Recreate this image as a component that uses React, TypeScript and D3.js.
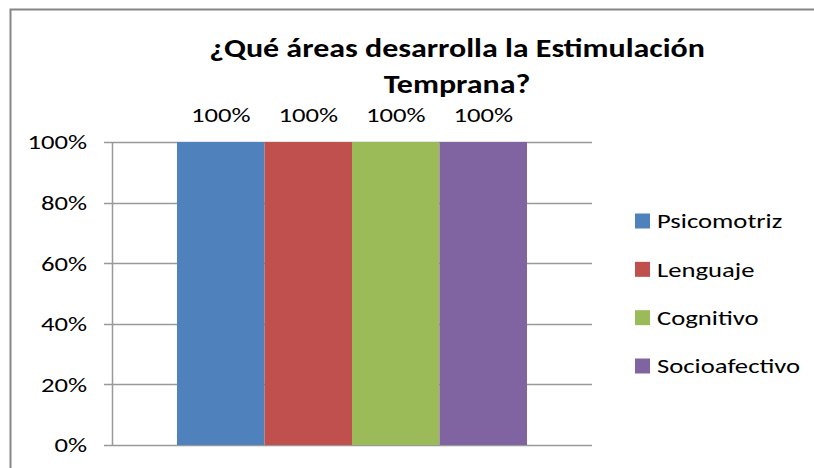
import * as d3 from "d3";
import type { ReactNode } from "react";

const categories = ["Áreas"];
const seriesNames = ["Psicomotriz", "Lenguaje", "Cognitivo", "Socioafectivo"];
const seriesValues = [1, 1, 1, 1];
const seriesColors = ["#4f81bd", "#c0504d", "#9bbb59", "#8064a2"];
const yTicks = [0, 0.2, 0.4, 0.6, 0.8, 1];
const titleLines = ["¿Qué áreas desarrolla la Estimulación", "Temprana?"];

// the original (Calibri) text looks wider than Lato, so stretch it a bit
function WideText({
  x,
  y,
  sx = 1.27,
  anchor = "start",
  baseline = "auto",
  size = 21,
  bold = false,
  children,
}: {
  x: number;
  y: number;
  sx?: number;
  anchor?: string;
  baseline?: string;
  size?: number;
  bold?: boolean;
  children: ReactNode;
}) {
  return (
    <text
      transform={`translate(${x},${y}) scale(${sx},1)`}
      textAnchor={anchor}
      dominantBaseline={baseline}
      fontSize={size}
      fontWeight={bold ? "bold" : "normal"}
      fill="#000"
    >
      {children}
    </text>
  );
}

export default function App() {
  const width = 814;
  const height = 468;
  const marginLeft = 112;
  const marginRight = 222;
  const marginTop = 142;
  const marginBottom = 23;
  const font = "Carlito, Calibri, Lato, sans-serif";

  const pct = d3.format(".0%");

  const x = d3
    .scaleBand()
    .domain(categories)
    .range([marginLeft, width - marginRight])
    .paddingInner(0)
    .paddingOuter(0.1857);

  const xInner = d3
    .scaleBand()
    .domain(seriesNames)
    .range([0, x.bandwidth()]);

  const y = d3
    .scaleLinear()
    .domain([0, 1])
    .range([height - marginBottom, marginTop]);

  const legendY = d3
    .scalePoint()
    .domain(seriesNames)
    .range([221, 366]);

  return (
    <svg
      width={width}
      height={height}
      style={{ position: "absolute", left: 0, top: 0, background: "#fff" }}
      fontFamily={font}
    >
      {/* chart border */}
      <rect
        x={10.5}
        y={9.5}
        width={width + 20}
        height={height + 20}
        fill="none"
        stroke="#868686"
        strokeWidth={2}
      />
      {/* title */}
      <WideText x={457} y={57} anchor="middle" size={26} sx={1.23} bold>
        {titleLines[0]}
      </WideText>
      <WideText x={457} y={93} anchor="middle" size={26} sx={1.23} bold>
        {titleLines[1]}
      </WideText>
      {/* Y axis gridlines + labels */}
      <g>
        {yTicks.map((tick) => (
          <g key={tick}>
            <line
              x1={marginLeft - 8}
              x2={width - marginRight}
              y1={Math.round(y(tick)) + 0.5}
              y2={Math.round(y(tick)) + 0.5}
              stroke="#999"
              strokeWidth={1.5}
            />
            <WideText x={87} y={y(tick)} anchor="end" baseline="central">
              {pct(tick)}
            </WideText>
          </g>
        ))}
        <line
          x1={marginLeft + 0.5}
          x2={marginLeft + 0.5}
          y1={y(1)}
          y2={y(0)}
          stroke="#999"
          strokeWidth={1.5}
        />
      </g>
      {/* bars */}
      {categories.map((cat) => (
        <g key={cat} transform={`translate(${x(cat)},0)`}>
          {seriesNames.map((name, i) => (
            <g key={name}>
              <rect
                x={xInner(name)}
                y={y(seriesValues[i])}
                width={xInner.bandwidth()}
                height={y(0) - y(seriesValues[i])}
                fill={seriesColors[i]}
              />
              <WideText
                x={(xInner(name) ?? 0) + xInner.bandwidth() / 2}
                y={122}
                anchor="middle"
              >
                {pct(seriesValues[i])}
              </WideText>
            </g>
          ))}
        </g>
      ))}
      {/* legend */}
      <g>
        {seriesNames.map((name, i) => (
          <g key={name}>
            <rect
              x={635}
              y={legendY(name)! - 7.5}
              width={15}
              height={15}
              fill={seriesColors[i]}
            />
            <WideText x={657} y={legendY(name)!} baseline="central">
              {name}
            </WideText>
          </g>
        ))}
      </g>
    </svg>
  );
}
